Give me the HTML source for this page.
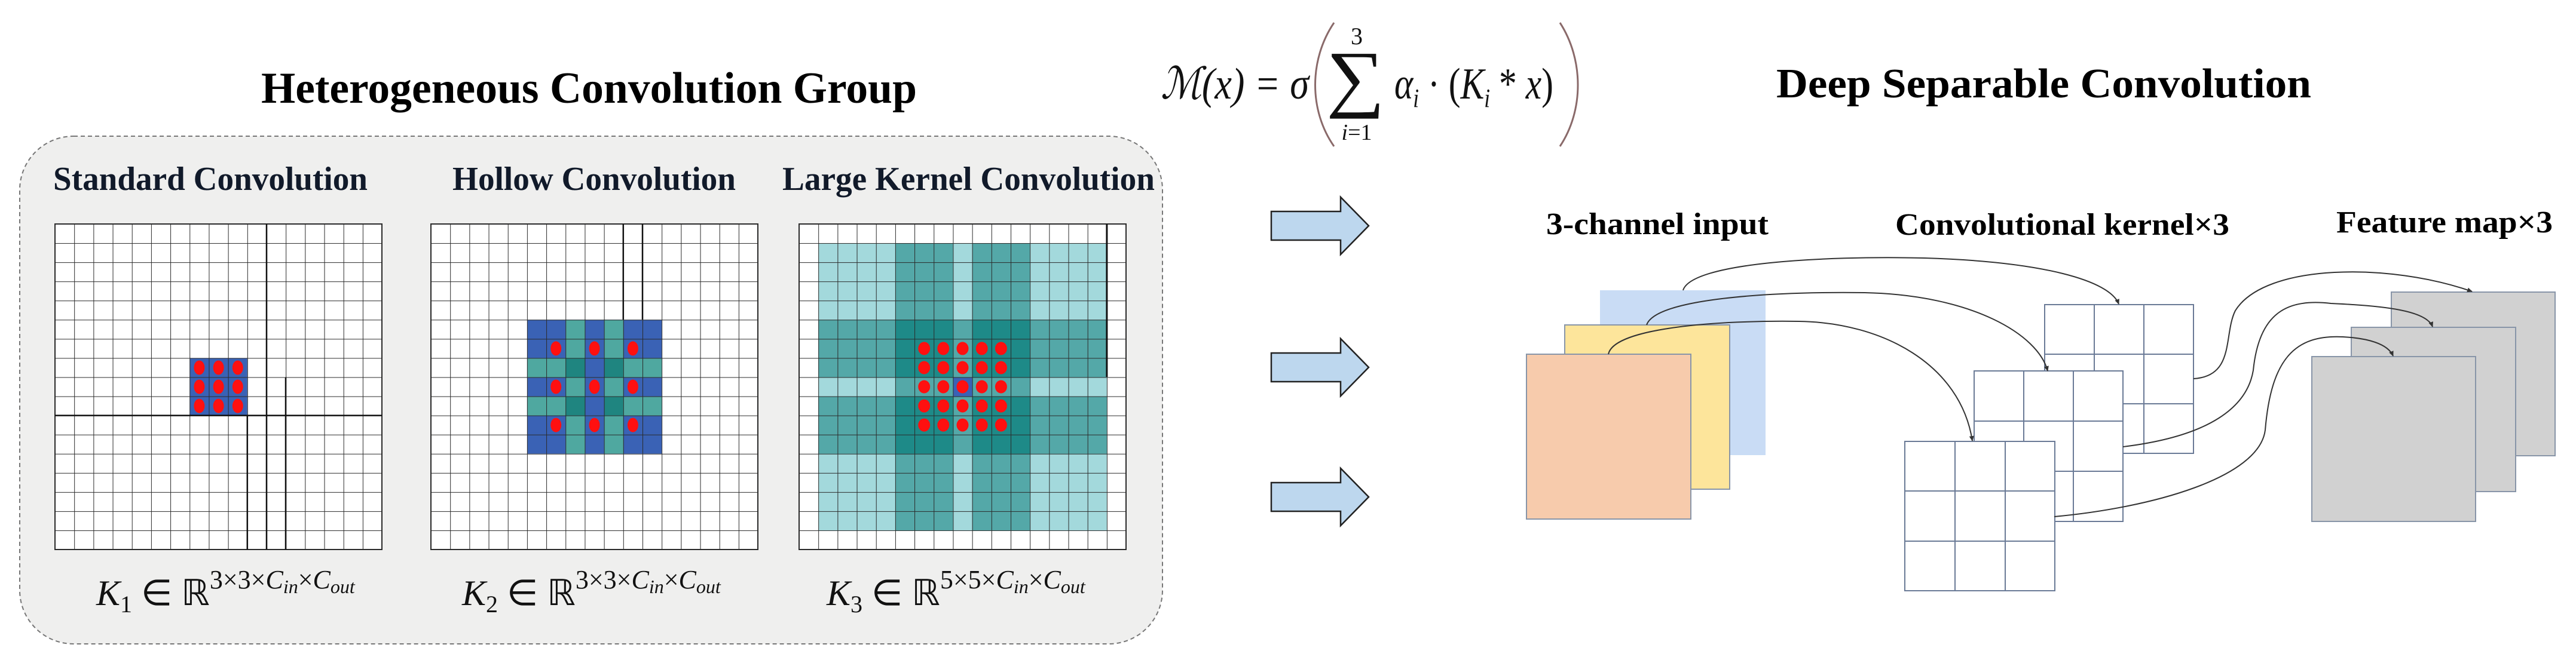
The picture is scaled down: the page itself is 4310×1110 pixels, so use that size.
<!DOCTYPE html>
<html><head><meta charset="utf-8"><style>
html,body{margin:0;padding:0;background:#fff;}
svg{display:block;}
text{font-family:"Liberation Serif",serif;}
</style></head><body>
<svg width="4310" height="1110" viewBox="0 0 4310 1110" xmlns="http://www.w3.org/2000/svg">
<defs>
<pattern id="g1" patternUnits="userSpaceOnUse" x="92" y="375" width="32.18" height="32.06"><path d="M0,0H32.18M0,0V32.06" stroke="#2a2a2a" stroke-width="2" fill="none"/></pattern>
<pattern id="g2" patternUnits="userSpaceOnUse" x="721" y="375" width="32.18" height="32.06"><path d="M0,0H32.18M0,0V32.06" stroke="#2a2a2a" stroke-width="2" fill="none"/></pattern>
<pattern id="g3" patternUnits="userSpaceOnUse" x="1337" y="375" width="32.18" height="32.06"><path d="M0,0H32.18M0,0V32.06" stroke="#2a2a2a" stroke-width="2" fill="none"/></pattern>
<marker id="ah" markerWidth="10" markerHeight="10" refX="8" refY="5" orient="auto" markerUnits="userSpaceOnUse"><path d="M0,1 L9,5 L0,9 Z" fill="#333"/></marker>
</defs>

<text x="437" y="172" font-size="74" font-weight="bold" textLength="1097" lengthAdjust="spacingAndGlyphs">Heterogeneous Convolution Group</text>

<rect x="33" y="228" width="1912" height="850" rx="90" ry="90" fill="#efefee" stroke="#777" stroke-width="2" stroke-dasharray="7,5"/>

<text x="89" y="318" font-size="56" font-weight="bold" fill="#111a2a" textLength="526" lengthAdjust="spacingAndGlyphs">Standard Convolution</text>
<text x="757" y="318" font-size="56" font-weight="bold" fill="#111a2a" textLength="474" lengthAdjust="spacingAndGlyphs">Hollow Convolution</text>
<text x="1309" y="318" font-size="56" font-weight="bold" fill="#111a2a" textLength="623" lengthAdjust="spacingAndGlyphs">Large Kernel Convolution</text>

<!-- Grid 1 -->
<rect x="92" y="375" width="547" height="545" fill="#fff"/>
<rect x="317.3" y="599.4" width="96.5" height="96.2" fill="#3a62b5"/>
<g fill="#ff1010">
<ellipse cx="333.4" cy="615.5" rx="9" ry="12"/><ellipse cx="365.6" cy="615.5" rx="9" ry="12"/><ellipse cx="397.8" cy="615.5" rx="9" ry="12"/>
<ellipse cx="333.4" cy="647.5" rx="9" ry="12"/><ellipse cx="365.6" cy="647.5" rx="9" ry="12"/><ellipse cx="397.8" cy="647.5" rx="9" ry="12"/>
<ellipse cx="333.4" cy="679.6" rx="9" ry="12"/><ellipse cx="365.6" cy="679.6" rx="9" ry="12"/><ellipse cx="397.8" cy="679.6" rx="9" ry="12"/>
</g>
<rect x="92" y="375" width="547" height="545" fill="url(#g1)" stroke="#2a2a2a" stroke-width="2"/>
<path d="M446,375V920 M413.8,695.6V920 M478,631.5V920 M92,695.6H639" stroke="#111" stroke-width="2.5" fill="none"/>

<!-- Grid 2 -->
<rect x="721" y="375" width="547" height="545" fill="#fff"/>
<rect x="881.9" y="535.3" width="225.3" height="224.4" fill="#3a62b5"/>
<rect x="946.3" y="535.3" width="32.2" height="224.4" fill="#4fa8a0"/>
<rect x="1010.6" y="535.3" width="32.2" height="224.4" fill="#4fa8a0"/>
<rect x="881.9" y="599.4" width="225.3" height="32.1" fill="#4fa8a0"/>
<rect x="881.9" y="663.5" width="225.3" height="32.1" fill="#4fa8a0"/>
<rect x="946.3" y="599.4" width="32.2" height="32.1" fill="#1f8580"/>
<rect x="1010.6" y="599.4" width="32.2" height="32.1" fill="#1f8580"/>
<rect x="946.3" y="663.5" width="32.2" height="32.1" fill="#1f8580"/>
<rect x="1010.6" y="663.5" width="32.2" height="32.1" fill="#1f8580"/>
<rect x="978.5" y="599.4" width="32.2" height="32.1" fill="#3a62b5"/>
<rect x="978.5" y="663.5" width="32.2" height="32.1" fill="#3a62b5"/>
<g fill="#ff1010">
<ellipse cx="930.2" cy="583.4" rx="9" ry="12"/><ellipse cx="994.6" cy="583.4" rx="9" ry="12"/><ellipse cx="1058.9" cy="583.4" rx="9" ry="12"/>
<ellipse cx="930.2" cy="647.5" rx="9" ry="12"/><ellipse cx="994.6" cy="647.5" rx="9" ry="12"/><ellipse cx="1058.9" cy="647.5" rx="9" ry="12"/>
<ellipse cx="930.2" cy="711.6" rx="9" ry="12"/><ellipse cx="994.6" cy="711.6" rx="9" ry="12"/><ellipse cx="1058.9" cy="711.6" rx="9" ry="12"/>
</g>
<rect x="721" y="375" width="547" height="545" fill="url(#g2)" stroke="#2a2a2a" stroke-width="2"/>
<path d="M1042.8,375V535 M1075,375V535" stroke="#111" stroke-width="2.5" fill="none"/>

<!-- Grid 3 -->
<rect x="1337" y="375" width="547" height="545" fill="#fff"/>
<rect x="1369.2" y="407.1" width="482.7" height="480.9" fill="#a3d9dc"/>
<rect x="1497.9" y="407.1" width="96.5" height="480.9" fill="#54a8a8"/>
<rect x="1626.6" y="407.1" width="96.5" height="480.9" fill="#54a8a8"/>
<rect x="1369.2" y="535.3" width="482.7" height="96.2" fill="#54a8a8"/>
<rect x="1369.2" y="663.5" width="482.7" height="96.2" fill="#54a8a8"/>
<rect x="1497.9" y="535.3" width="96.5" height="96.2" fill="#1e8a88"/>
<rect x="1626.6" y="535.3" width="96.5" height="96.2" fill="#1e8a88"/>
<rect x="1497.9" y="663.5" width="96.5" height="96.2" fill="#1e8a88"/>
<rect x="1626.6" y="663.5" width="96.5" height="96.2" fill="#1e8a88"/>
<rect x="1594.4" y="631.5" width="32.2" height="32.1" fill="#3a62b5"/>
<g fill="#ff1010">
<ellipse cx="1546.2" cy="583.4" rx="10" ry="11"/><ellipse cx="1578.3" cy="583.4" rx="10" ry="11"/><ellipse cx="1610.5" cy="583.4" rx="10" ry="11"/><ellipse cx="1642.7" cy="583.4" rx="10" ry="11"/><ellipse cx="1674.9" cy="583.4" rx="10" ry="11"/>
<ellipse cx="1546.2" cy="615.5" rx="10" ry="11"/><ellipse cx="1578.3" cy="615.5" rx="10" ry="11"/><ellipse cx="1610.5" cy="615.5" rx="10" ry="11"/><ellipse cx="1642.7" cy="615.5" rx="10" ry="11"/><ellipse cx="1674.9" cy="615.5" rx="10" ry="11"/>
<ellipse cx="1546.2" cy="647.5" rx="10" ry="11"/><ellipse cx="1578.3" cy="647.5" rx="10" ry="11"/><ellipse cx="1610.5" cy="647.5" rx="10" ry="11"/><ellipse cx="1642.7" cy="647.5" rx="10" ry="11"/><ellipse cx="1674.9" cy="647.5" rx="10" ry="11"/>
<ellipse cx="1546.2" cy="679.6" rx="10" ry="11"/><ellipse cx="1578.3" cy="679.6" rx="10" ry="11"/><ellipse cx="1610.5" cy="679.6" rx="10" ry="11"/><ellipse cx="1642.7" cy="679.6" rx="10" ry="11"/><ellipse cx="1674.9" cy="679.6" rx="10" ry="11"/>
<ellipse cx="1546.2" cy="711.6" rx="10" ry="11"/><ellipse cx="1578.3" cy="711.6" rx="10" ry="11"/><ellipse cx="1610.5" cy="711.6" rx="10" ry="11"/><ellipse cx="1642.7" cy="711.6" rx="10" ry="11"/><ellipse cx="1674.9" cy="711.6" rx="10" ry="11"/>
</g>
<rect x="1337" y="375" width="547" height="545" fill="url(#g3)" stroke="#2a2a2a" stroke-width="2"/>
<path d="M1851.9,375V631" stroke="#111" stroke-width="3" fill="none"/>

<!-- K labels -->
<text x="161" y="1013" font-size="60" font-style="italic" fill="#111">K<tspan font-size="40" font-style="normal" dy="12">1</tspan><tspan font-style="normal" dy="-12"> ∈ ℝ</tspan><tspan font-size="44" font-style="normal" dy="-28">3×3×</tspan><tspan font-size="44">C</tspan><tspan font-size="32" dy="8">in</tspan><tspan font-size="44" font-style="normal" dy="-8">×</tspan><tspan font-size="44">C</tspan><tspan font-size="32" dy="8">out</tspan></text>
<text x="773" y="1013" font-size="60" font-style="italic" fill="#111">K<tspan font-size="40" font-style="normal" dy="12">2</tspan><tspan font-style="normal" dy="-12"> ∈ ℝ</tspan><tspan font-size="44" font-style="normal" dy="-28">3×3×</tspan><tspan font-size="44">C</tspan><tspan font-size="32" dy="8">in</tspan><tspan font-size="44" font-style="normal" dy="-8">×</tspan><tspan font-size="44">C</tspan><tspan font-size="32" dy="8">out</tspan></text>
<text x="1383" y="1013" font-size="60" font-style="italic" fill="#111">K<tspan font-size="40" font-style="normal" dy="12">3</tspan><tspan font-style="normal" dy="-12"> ∈ ℝ</tspan><tspan font-size="44" font-style="normal" dy="-28">5×5×</tspan><tspan font-size="44">C</tspan><tspan font-size="32" dy="8">in</tspan><tspan font-size="44" font-style="normal" dy="-8">×</tspan><tspan font-size="44">C</tspan><tspan font-size="32" dy="8">out</tspan></text>

<!-- Formula -->
<text x="1942" y="165" font-size="74" font-style="italic" fill="#111" textLength="248" lengthAdjust="spacingAndGlyphs">ℳ(x) = σ</text>
<path d="M2232,38 C2190,100 2190,185 2232,245" stroke="#8a6a6a" stroke-width="3" fill="none"/>
<path d="M2610,38 C2650,100 2650,185 2610,245" stroke="#8a6a6a" stroke-width="3" fill="none"/>
<text x="2270" y="74" font-size="40" text-anchor="middle" fill="#111">3</text>
<text transform="translate(2268,172) scale(1.1,1)" x="0" y="0" font-size="125" text-anchor="middle" fill="#111">∑</text>
<text x="2270" y="234" font-size="38" text-anchor="middle" fill="#111"><tspan font-style="italic">i</tspan>=1</text>
<text x="2333" y="165" font-size="74" font-style="italic" fill="#111" textLength="266" lengthAdjust="spacingAndGlyphs">α<tspan font-size="44" dy="14">i</tspan><tspan font-style="normal" dy="-14"> · (</tspan>K<tspan font-size="44" dy="14">i</tspan><tspan font-style="normal" dy="-14"> * </tspan>x<tspan font-style="normal">)</tspan></text>

<!-- Arrows -->
<g fill="#bdd7ee" stroke="#222" stroke-width="2.5">
<path d="M2127,354 H2243 V330 L2290,378 L2243,426 V402 H2127 Z"/>
<path d="M2127,591 H2243 V567 L2290,615 L2243,663 V639 H2127 Z"/>
<path d="M2127,808 H2243 V784 L2290,832 L2243,880 V856 H2127 Z"/>
</g>

<text x="2972" y="163" font-size="70" font-weight="bold" textLength="895" lengthAdjust="spacingAndGlyphs">Deep Separable Convolution</text>
<text x="2587" y="392" font-size="52" font-weight="bold" textLength="372" lengthAdjust="spacingAndGlyphs">3-channel input</text>
<text x="3171" y="393" font-size="52" font-weight="bold" textLength="559" lengthAdjust="spacingAndGlyphs">Convolutional kernel×3</text>
<text x="3909" y="389" font-size="52" font-weight="bold" textLength="362" lengthAdjust="spacingAndGlyphs">Feature map×3</text>

<rect x="2677" y="486" width="277" height="276" fill="#c9dcf5"/>
<rect x="2618" y="544" width="276" height="275" fill="#fde59b" stroke="#8895a8" stroke-width="2"/>
<rect x="2554" y="593" width="275" height="276" fill="#f7cbac" stroke="#8895a8" stroke-width="2"/>

<g fill="#fff" stroke="#6a7a96" stroke-width="2">
<rect x="3421" y="510" width="249" height="249"/>
<path d="M3504,510V759 M3587,510V759 M3421,593H3670 M3421,676H3670"/>
<rect x="3303" y="621" width="249" height="252"/>
<path d="M3386,621V873 M3469,621V873 M3303,705H3552 M3303,789H3552"/>
<rect x="3187" y="739" width="251" height="250"/>
<path d="M3271,739V989 M3355,739V989 M3187,822H3438 M3187,906H3438"/>
</g>

<g fill="#d1d1d1" stroke="#8895a8" stroke-width="2">
<rect x="4001" y="489" width="274" height="274"/>
<rect x="3934" y="548" width="275" height="275"/>
<rect x="3868" y="597" width="274" height="276"/>
</g>

<g stroke="#333" stroke-width="2" fill="none" marker-end="url(#ah)">
<path d="M2816,486 C2830,440 3050,428 3220,432 C3420,438 3530,470 3545,509"/>
<path d="M2755,544 C2770,500 2960,488 3120,490 C3300,494 3410,560 3426,621"/>
<path d="M2691,593 C2700,548 2880,536 3010,538 C3150,540 3280,610 3300,738"/>
<path d="M3670,634 C3740,630 3720,560 3740,520 C3790,440 4000,440 4136,488"/>
<path d="M3552,748 C3700,730 3760,680 3770,620 C3780,520 3830,500 3900,508 C3990,512 4060,520 4070,547"/>
<path d="M3437,865 C3600,850 3780,800 3790,720 C3800,600 3840,560 3920,564 C3960,566 3995,575 4004,596"/>
</g>
</svg>
</body></html>
